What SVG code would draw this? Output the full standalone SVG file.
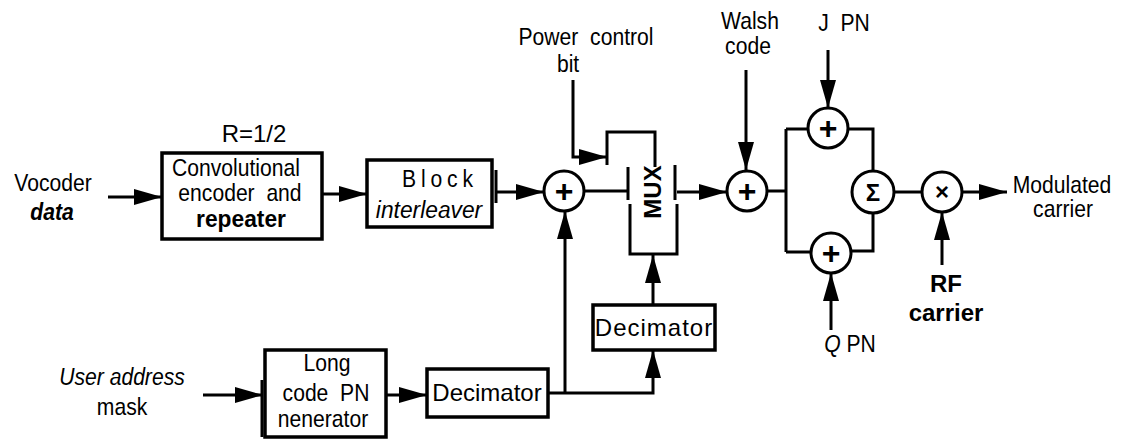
<svg xmlns="http://www.w3.org/2000/svg" width="1123" height="439" viewBox="0 0 1123 439">
<defs>
<marker id="ah" markerUnits="userSpaceOnUse" markerWidth="28" markerHeight="16" refX="28" refY="8" orient="auto">
<path d="M0,0 L28,8 L0,16 Z" fill="#000"/>
</marker>
<style>
text{font-family:"Liberation Sans",Arial,Helvetica,sans-serif;font-size:24px;fill:#000;text-anchor:middle}
.t{transform-box:fill-box;transform-origin:center;transform:scaleX(.88)}
.box{fill:#fff;stroke:#000;stroke-width:3.5}
.ln{fill:none;stroke:#000;stroke-width:3}
.ar{fill:none;stroke:#000;stroke-width:3;marker-end:url(#ah)}
.circ{fill:#fff;stroke:#000;stroke-width:3}
.sym{font-weight:bold;font-size:32px}
</style>
</defs>
<rect width="1123" height="439" fill="#fff"/>

<g id="connectors">
<path class="ar" d="M108,197 H162"/>
<path class="ar" d="M322,194 H367"/>
<path class="ar" d="M496,192 H544"/>
<path class="ln" d="M584,191 H628"/>
<path class="ar" d="M573,80 V157 H607"/>
<path class="ln" d="M607,165 V132 H655 V167"/>
<path class="ar" d="M677,192 H727"/>
<path class="ar" d="M746,70 V170"/>
<path class="ln" d="M767,191 H786 M786,129 V252 M786,129 H808 M786,252 H811"/>
<path class="ar" d="M828,50 V108"/>
<path class="ln" d="M848,129 H873 V171"/>
<path class="ln" d="M851,251 H873 V213"/>
<path class="ar" d="M831,330 V273"/>
<path class="ln" d="M894,192 H922"/>
<path class="ar" d="M962,192 H1007"/>
<path class="ar" d="M942,265 V212"/>
<path class="ar" d="M203,395 H263"/>
<path class="ar" d="M386,395 H427"/>
<path class="ar" d="M548,393 H653 V350"/>
<path class="ar" d="M565,393 V211"/>
<path class="ar" d="M653,305 V255"/>
</g>

<g id="vocoder-label">
<text class="t" x="53" y="191">Vocoder</text>
<text class="t" x="52" y="220" font-style="italic" font-weight="bold">data</text>
</g>

<g id="conv-encoder">
<text x="254" y="142" font-size="23">R=1/2</text>
<rect class="box" x="162" y="153" width="160" height="86"/>
<text class="t" x="236" y="176">Convolutional</text>
<text class="t" x="240" y="201" xml:space="preserve">encoder  and</text>
<text class="t" x="241" y="227" font-size="22" font-weight="bold" style="transform:scaleX(.95)">repeater</text>
</g>

<g id="block-interleaver">
<rect class="box" x="367" y="160" width="125" height="67"/>
<path class="ln" d="M496,170 V203"/>
<text class="t" x="440" y="187" letter-spacing="5.5">Block</text>
<text class="t" x="429" y="218" font-style="italic" style="transform:scaleX(.95)">interleaver</text>
</g>

<g id="adder1">
<circle class="circ" cx="564" cy="191" r="20"/>
<text class="sym" x="564" y="202">+</text>
</g>

<g id="power-control-label">
<text class="t" x="586" y="45" xml:space="preserve">Power  control</text>
<text class="t" x="568" y="72">bit</text>
</g>

<g id="mux">
<path class="ln" d="M628,167 V200 M630,204 V254 H677 V204 M675,200 V165" stroke-width="3.5"/>
<text transform="translate(661,192) rotate(-90)" font-size="21" font-weight="bold">MUX</text>
</g>

<g id="walsh-adder">
<text class="t" x="750" y="29">Walsh</text>
<text class="t" x="748" y="54">code</text>
<circle class="circ" cx="747" cy="191" r="20"/>
<text class="sym" x="747" y="202">+</text>
</g>

<g id="i-adder">
<text class="t" x="844" y="31" xml:space="preserve">J  PN</text>
<circle class="circ" cx="828" cy="128" r="20"/>
<text class="sym" x="828" y="139">+</text>
</g>

<g id="q-adder">
<circle class="circ" cx="831" cy="253" r="20"/>
<text class="sym" x="831" y="264">+</text>
<text class="t" x="850" y="352"><tspan font-style="italic">Q</tspan> PN</text>
</g>

<g id="summer">
<circle class="circ" cx="873" cy="192" r="21"/>
<text x="873" y="201" font-size="26" font-weight="bold">Σ</text>
</g>

<g id="multiplier">
<circle class="circ" cx="942" cy="192" r="20"/>
<text x="942" y="200" font-size="24" font-weight="bold">×</text>
<text x="946" y="292" font-size="23" font-weight="bold">RF</text>
<text x="946" y="321" font-size="23" font-weight="bold">carrier</text>
</g>

<g id="output-label">
<text class="t" x="1062" y="193">Modulated</text>
<text class="t" x="1063" y="217">carrier</text>
</g>

<g id="user-mask-label">
<text class="t" x="122" y="385" font-style="italic">User address</text>
<text class="t" x="122" y="415">mask</text>
</g>

<g id="long-code-gen">
<path class="box" d="M265,378 V350 H386 V437 H265 Z"/>
<path class="ln" d="M262,380 V437" stroke-width="3.5"/>
<text class="t" x="327" y="371">Long</text>
<text class="t" x="326" y="401" xml:space="preserve">code  PN</text>
<text class="t" x="323" y="427">nenerator</text>
</g>

<g id="decimator-lower">
<rect class="box" x="427" y="369" width="121" height="48"/>
<text x="487" y="401" font-size="23">Decimator</text>
</g>

<g id="decimator-upper">
<rect class="box" x="593" y="305" width="122" height="45"/>
<text x="654" y="336" font-size="21" letter-spacing="1">Decimator</text>
</g>
</svg>
